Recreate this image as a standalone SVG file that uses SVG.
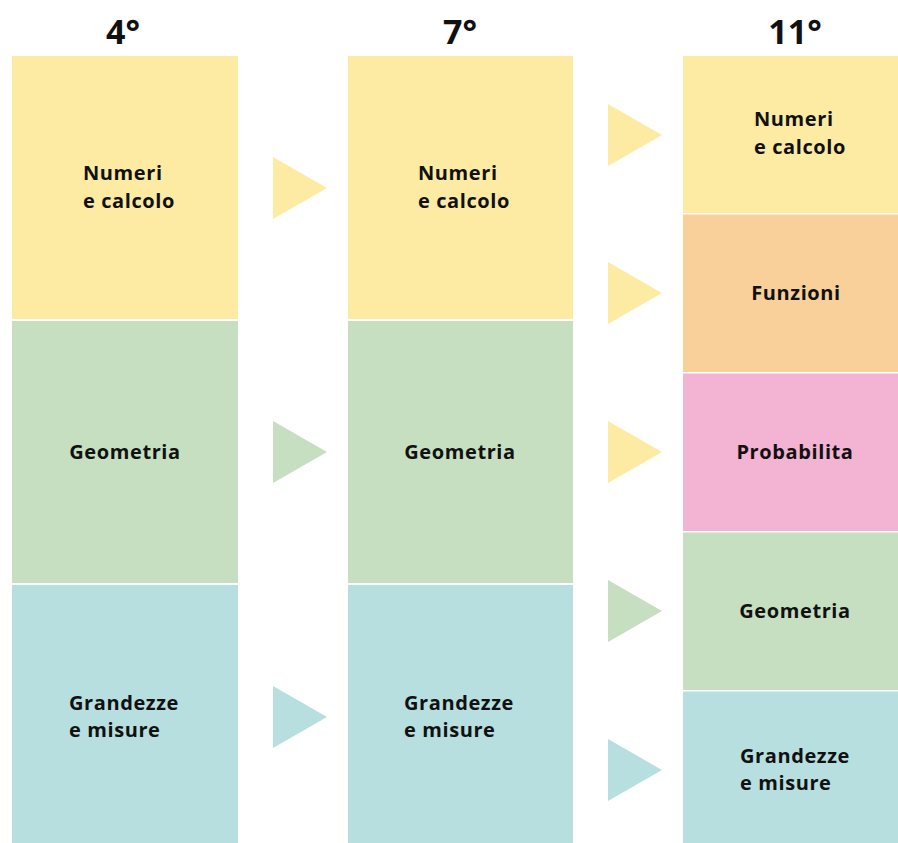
<svg xmlns="http://www.w3.org/2000/svg" width="898" height="843" viewBox="0 0 898 843">
<style>
.y{fill:#FEEBA3}.g{fill:#C6DFC0}.b{fill:#B7DFDF}.o{fill:#F9D09A}.p{fill:#F3B3D2}
text{font-family:"Open Sans","Noto Sans","Liberation Sans",sans-serif;font-weight:700;fill:#111}
.l{font-size:20px;letter-spacing:0.6px}.h{font-size:34px;text-anchor:middle}.c{text-anchor:middle}
</style>
<rect width="898" height="843" fill="#fff"/>
<g id="headers">
<text class="h" x="123" y="44">4°</text>
<text class="h" x="460" y="44">7°</text>
<text class="h" x="795" y="44">11°</text>
</g>
<g id="c1-numeri"><rect class="y" x="12" y="56" width="226" height="263"/><text class="l" x="83" y="180">Numeri</text><text class="l" x="83" y="208">e calcolo</text></g>
<g id="c1-geometria"><rect class="g" x="12" y="321" width="226" height="262"/><text class="l c" x="125" y="459">Geometria</text></g>
<g id="c1-grandezze"><rect class="b" x="12" y="585" width="226" height="258"/><text class="l" x="69" y="710">Grandezze</text><text class="l" x="69" y="737">e misure</text></g>
<g id="c2-numeri"><rect class="y" x="348" y="56" width="225" height="263"/><text class="l" x="418" y="180">Numeri</text><text class="l" x="418" y="208">e calcolo</text></g>
<g id="c2-geometria"><rect class="g" x="348" y="321" width="225" height="262"/><text class="l c" x="460" y="459">Geometria</text></g>
<g id="c2-grandezze"><rect class="b" x="348" y="585" width="225" height="258"/><text class="l" x="404" y="710">Grandezze</text><text class="l" x="404" y="737">e misure</text></g>
<g id="c3-numeri"><rect class="y" x="683" y="56" width="215" height="157"/><text class="l" x="754" y="126">Numeri</text><text class="l" x="754" y="154">e calcolo</text></g>
<g id="c3-funzioni"><rect class="o" x="683" y="214.5" width="215" height="157.5"/><text class="l c" x="796" y="300">Funzioni</text></g>
<g id="c3-probabilita"><rect class="p" x="683" y="373.5" width="215" height="157.5"/><text class="l c" x="795" y="459">Probabilita</text></g>
<g id="c3-geometria"><rect class="g" x="683" y="532.5" width="215" height="157.5"/><text class="l c" x="795" y="618">Geometria</text></g>
<g id="c3-grandezze"><rect class="b" x="683" y="691.5" width="215" height="151.5"/><text class="l" x="740" y="763">Grandezze</text><text class="l" x="740" y="790">e misure</text></g>
<g id="connectors">
<polygon class="y" points="273,157 327,188 273,219"/>
<polygon class="g" points="273,421 327,452 273,483"/>
<polygon class="b" points="273,686 327,717 273,748"/>
<polygon class="y" points="608,104 662,135 608,166"/>
<polygon class="y" points="608,262 662,293 608,324"/>
<polygon class="y" points="608,421 662,452 608,483"/>
<polygon class="g" points="608,580 662,611 608,642"/>
<polygon class="b" points="608,739 662,770 608,801"/>
</g>
</svg>
